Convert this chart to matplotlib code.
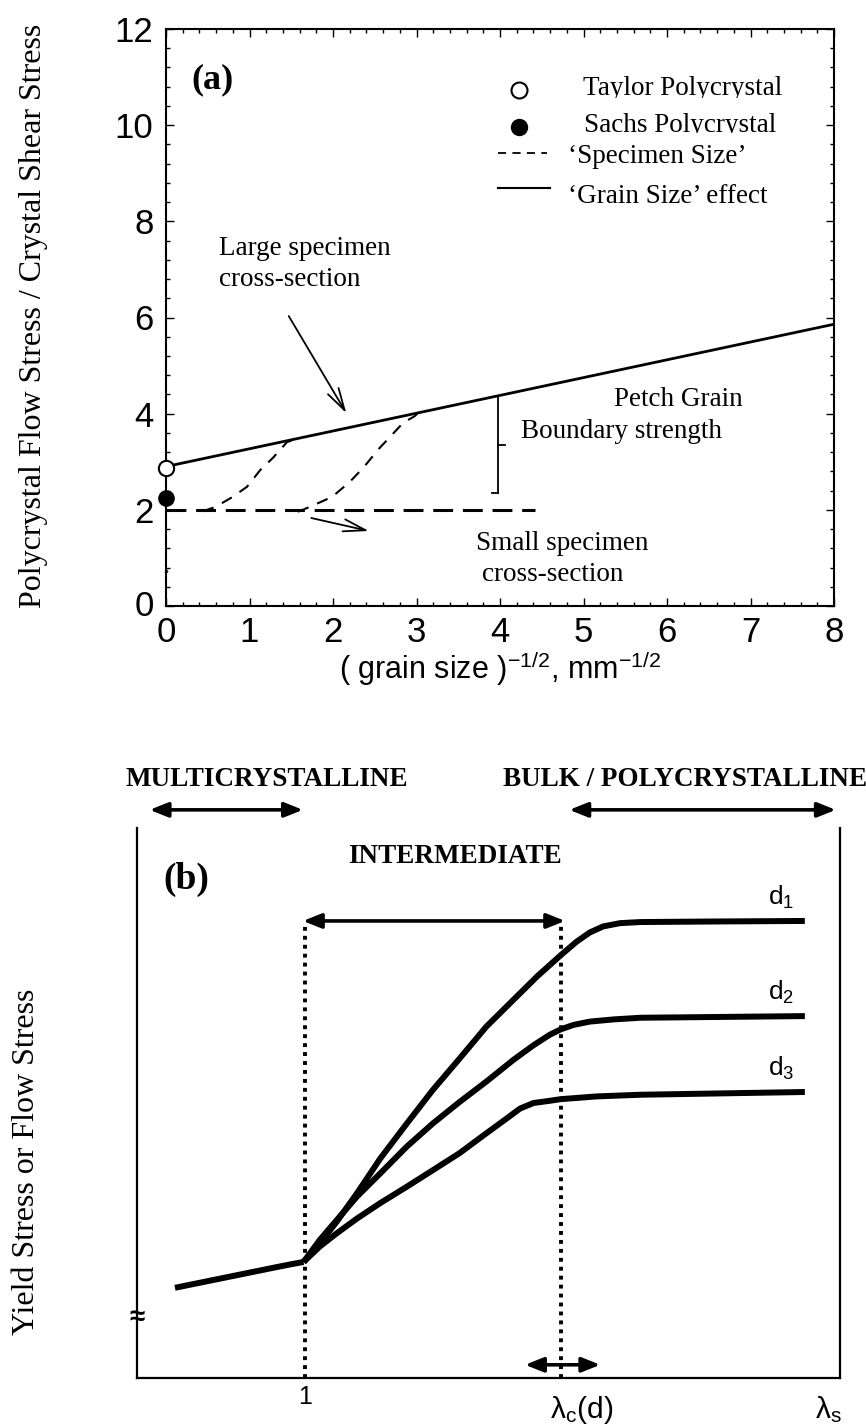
import matplotlib
matplotlib.use("Agg")
import matplotlib.pyplot as plt
from matplotlib.transforms import Bbox, TransformedBbox
from matplotlib.ticker import MultipleLocator

plt.rcParams['font.family'] = ['Liberation Sans', 'DejaVu Sans']
plt.rcParams['mathtext.default'] = 'regular'
SERIF = ['Liberation Serif', 'DejaVu Serif']

# ---------------- panel (a) data ----------------
grain_x = [0.0, 8.0]                 # Hall-Petch 'grain size' line
grain_y = [2.90, 5.86]
taylor_x, taylor_y = [0.0], [2.87]   # Taylor polycrystal
sachs_x, sachs_y = [0.0], [2.25]     # Sachs polycrystal
small_x = [0.0, 4.42]                # small specimen level
small_y = [2.0, 2.0]
trans1_x = [0.44, 0.59, 0.80, 0.97, 1.13, 1.28, 1.45, 1.58]
trans1_y = [1.97, 2.06, 2.27, 2.48, 2.83, 3.08, 3.41, 3.48]
trans2_x = [1.58, 1.72, 1.99, 2.20, 2.36, 2.56, 2.68, 2.84, 2.98, 3.02]
trans2_y = [1.96, 2.06, 2.27, 2.58, 2.87, 3.29, 3.51, 3.81, 3.95, 4.02]
xticks_a = [0, 1, 2, 3, 4, 5, 6, 7, 8]
yticks_a = [0, 2, 4, 6, 8, 10, 12]

# ---------------- panel (b) data ----------------
base_x = [0.54, 2.00, 2.20, 2.37]
base_y = [1.64, 2.02, 2.07, 2.11]
d1_x = [2.37, 2.60, 2.84, 3.13, 3.46, 3.84, 4.21, 4.59, 4.97, 5.35, 5.69, 6.03,
        6.25, 6.44, 6.63, 6.87, 7.16, 8.19, 9.50]
d1_y = [2.11, 2.45, 2.84, 3.36, 3.99, 4.63, 5.24, 5.81, 6.39, 6.87, 7.30, 7.69,
        7.93, 8.10, 8.21, 8.27, 8.29, 8.30, 8.31]
d2_x = [2.37, 2.60, 2.84, 3.13, 3.46, 3.84, 4.21, 4.59, 4.97, 5.35, 5.64, 5.87,
        6.03, 6.21, 6.44, 6.78, 7.16, 9.50]
d2_y = [2.11, 2.51, 2.87, 3.30, 3.72, 4.21, 4.63, 5.02, 5.39, 5.78, 6.05, 6.24,
        6.34, 6.42, 6.48, 6.52, 6.55, 6.58]
d3_x = [2.37, 2.60, 2.84, 3.13, 3.46, 3.84, 4.21, 4.59, 4.97, 5.26, 5.45, 5.64,
        5.87, 6.03, 6.54, 7.16, 9.50]
d3_y = [2.11, 2.39, 2.63, 2.90, 3.18, 3.48, 3.78, 4.09, 4.45, 4.72, 4.90, 5.00,
        5.04, 5.07, 5.12, 5.15, 5.20]
curve_labels = ['d$_1$', 'd$_2$', 'd$_3$']
x_one = 2.39        # lambda = 1
x_lamc = 6.03       # lambda_c(d)

W, H = 866, 1428
fig = plt.figure(figsize=(W / 100, H / 100), dpi=100)


def px_axes(l, t, r, b):
    return fig.add_axes([l / W, 1 - b / H, (r - l) / W, (b - t) / H])


# ======================= (a) =======================
ax = px_axes(166, 29, 834, 606)
ax.set_xlim(0, 8)
ax.set_ylim(0, 12)
for s in ax.spines.values():
    s.set_linewidth(1.5)
ax.set_xticks(xticks_a)
ax.set_yticks(yticks_a)
ax.xaxis.set_minor_locator(MultipleLocator(0.2))
ax.yaxis.set_minor_locator(MultipleLocator(0.4))
ax.tick_params(which='both', direction='in', top=True, right=True, width=1.0)
ax.tick_params(which='major', length=6)
ax.tick_params(which='minor', length=3)
ax.tick_params(axis='x', labelsize=25, pad=7)
ax.tick_params(axis='y', labelsize=25, pad=9)
ax.get_yticklabels()[0].set_verticalalignment('center')

ax.plot(grain_x, grain_y, color='k', lw=2.0, solid_capstyle='butt')
ax.plot(small_x, small_y, color='k', lw=2.2, linestyle=(0, (6.5, 3.2)))
ax.plot(trans1_x, trans1_y, color='k', lw=1.5, linestyle=(0, (5.5, 4.5)))
ax.plot(trans2_x, trans2_y, color='k', lw=1.5, linestyle=(0, (5.5, 4.5)))
ax.plot(taylor_x, taylor_y, 'o', ms=11, mfc='white', mec='k', mew=1.5, clip_on=False, zorder=5)
ax.plot(sachs_x, sachs_y, 'o', ms=11, mfc='k', mec='k', clip_on=False, zorder=5)
ax.plot([0.0], [0.73], 's', ms=1.5, color='#2020d0', clip_on=False)

# bracket marking the boundary strength
ax.plot([3.98, 3.98], [4.37, 2.35], color='k', lw=1.3)
ax.plot([3.91, 3.98], [2.35, 2.35], color='k', lw=1.3)
ax.plot([3.98, 4.06], [3.35, 3.35], color='k', lw=1.3)

arrow_a = dict(arrowstyle='->,head_length=0.8,head_width=0.22', lw=1.3, color='k',
               shrinkA=0, shrinkB=0, mutation_scale=20)
ax.annotate('', xy=(2.16, 4.01), xytext=(1.47, 6.03), arrowprops=arrow_a)
ax.annotate('', xy=(2.43, 1.56), xytext=(1.74, 1.83), arrowprops=arrow_a)

ax.text(0.56, 10.94, '(a)', family=SERIF, fontweight='bold', fontsize=26, ha='center', va='center')

# legend drawn by hand
TS = 19.5
ax.plot([4.23], [10.73], 'o', ms=11.5, mfc='white', mec='k', mew=1.5)
ax.plot([4.23], [9.96], 'o', ms=11.5, mfc='k', mec='k')
ax.plot([3.98, 4.56], [9.42, 9.42], color='k', lw=1.3, linestyle=(0, (4.5, 3.5)))
ax.plot([3.98, 4.60], [8.69, 8.69], color='k', lw=1.5)
t1 = ax.text(4.99, 10.77, 'Taylor Polycrystal', family=SERIF, fontsize=TS, va='center')
t2 = ax.text(5.00, 10.00, 'Sachs Polycrystal', family=SERIF, fontsize=TS, va='center')
t1.set_clip_box(TransformedBbox(Bbox([[4.5, 10.57], [8.0, 11.5]]), ax.transData))
t2.set_clip_box(TransformedBbox(Bbox([[4.5, 9.83], [8.0, 10.6]]), ax.transData))
t1.set_clip_on(True)
t2.set_clip_on(True)
ax.text(4.81, 9.34, '\u2018Specimen Size\u2019', family=SERIF, fontsize=TS, va='center')
ax.text(4.81, 8.51, '\u2018Grain Size\u2019 effect', family=SERIF, fontsize=TS, va='center')

ax.text(0.63, 7.44, 'Large specimen', family=SERIF, fontsize=TS, va='center')
ax.text(0.63, 6.78, 'cross-section', family=SERIF, fontsize=TS, va='center')
ax.text(6.14, 4.29, 'Petch Grain', family=SERIF, fontsize=TS, va='center', ha='center')
ax.text(4.25, 3.62, 'Boundary strength', family=SERIF, fontsize=TS, va='center')
ax.text(4.74, 1.29, 'Small specimen', family=SERIF, fontsize=TS, va='center', ha='center')
ax.text(4.63, 0.65, 'cross-section', family=SERIF, fontsize=TS, va='center', ha='center')

fig.text(500 / W, 1 - 669 / H, '( grain size )$^{-1/2}$, mm$^{-1/2}$', fontsize=22,
         ha='center', va='center')
fig.text(34 / W, 1 - 316 / H, 'Polycrystal Flow Stress / Crystal Shear Stress',
         family=SERIF, fontsize=23, rotation=90, ha='center', va='center')

# ======================= (b) =======================
bx = px_axes(137, 828, 840, 1378)
bx.set_xlim(0, 10)
bx.set_ylim(0, 10)
bx.spines['top'].set_visible(False)
for k in ('left', 'right', 'bottom'):
    bx.spines[k].set_linewidth(1.6)
bx.set_yticks([])
bx.set_xticks([x_one])
bx.set_xticklabels(['1'], fontsize=18)
bx.tick_params(axis='x', length=0, pad=5)

curve_kw = dict(color='k', lw=4.3, solid_capstyle='butt', solid_joinstyle='round')
bx.plot(base_x, base_y, **curve_kw)
for cx, cy, lab in zip((d1_x, d2_x, d3_x), (d1_y, d2_y, d3_y), curve_labels):
    bx.plot(cx, cy, **curve_kw)
    bx.text(8.98, cy[-1] + 0.30, lab, fontsize=19, ha='left', va='baseline')

dot_kw = dict(color='k', lw=2.8, linestyle=(0, (1, 1.3)), dash_capstyle='butt')
bx.plot([x_one, x_one], [0, 8.24], **dot_kw)
bx.plot([x_lamc, x_lamc], [0, 8.24], **dot_kw)

arrow_b = dict(arrowstyle='<|-|>,head_length=0.55,head_width=0.22', lw=2.6, color='k',
               shrinkA=0, shrinkB=0, mutation_scale=20)
bx.annotate('', xy=(6.09, 8.31), xytext=(2.36, 8.31), arrowprops=arrow_b, annotation_clip=False)
bx.annotate('', xy=(2.36, 10.33), xytext=(0.18, 10.33), arrowprops=arrow_b, annotation_clip=False)
bx.annotate('', xy=(9.94, 10.33), xytext=(6.15, 10.33), arrowprops=arrow_b, annotation_clip=False)
bx.annotate('', xy=(6.59, 0.24), xytext=(5.52, 0.24), arrowprops=arrow_b, annotation_clip=False)

bold = dict(family=SERIF, fontweight='bold', ha='center', va='center', clip_on=False)
bx.text(1.84, 10.89, 'MULTICRYSTALLINE', fontsize=19.5, **bold)
bx.text(7.80, 10.89, 'BULK / POLYCRYSTALLINE', fontsize=19.5, **bold)
bx.text(4.52, 9.49, 'INTERMEDIATE', fontsize=19.5, **bold)
bx.text(0.70, 9.07, '(b)', fontsize=27, **bold)

bx.text(0.0, 1.09, '\u2248', fontsize=20, fontweight='bold', ha='center', va='center', clip_on=False)
bx.text(5.87, -0.58, '\u03bb$_c$(d)', fontsize=21.5, ha='left', va='center', clip_on=False)
bx.text(9.64, -0.58, '\u03bb$_s$', fontsize=21.5, ha='left', va='center', clip_on=False)

fig.text(27 / W, 1 - 1162 / H, 'Yield Stress or Flow Stress', family=SERIF, fontsize=23,
         rotation=90, ha='center', va='center')

fig.savefig('out.png', dpi=100)
